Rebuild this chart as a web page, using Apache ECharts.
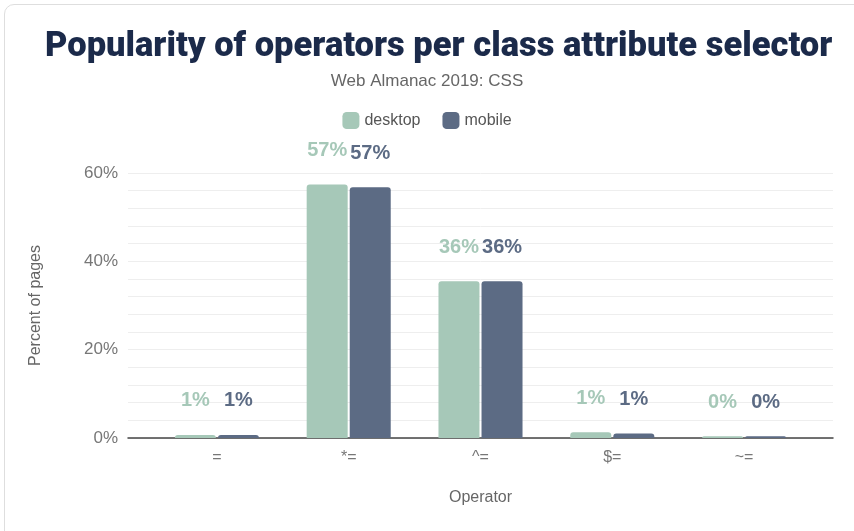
<!DOCTYPE html>
<html>
<head>
<meta charset="utf-8">
<script src="https://cdn.jsdelivr.net/npm/echarts@6/dist/echarts.min.js"></script>
<style>
  html, body { margin: 0; padding: 0; background: #fff; overflow: hidden; }
  #frame { position: absolute; left: 4px; top: 4px; width: 880px; height: 560px;
           border: 1px solid #dedede; border-radius: 10px; }
  #demo { position: absolute; left: 0; top: 0; width: 854px; height: 531px; }
</style>
</head>
<body>
<div id="frame"></div>
<div id="demo"></div>
<script>
var categories = ['=', '*=', '^=', '$=', '~='];
var desktop = [0.7, 57.4, 35.5, 1.3, 0.4];
var mobile = [0.7, 56.8, 35.5, 1.0, 0.4];
var desktopLabels = ['1%', '57%', '36%', '1%', '0%'];
var mobileLabels = ['1%', '57%', '36%', '1%', '0%'];
var yTicks = [0, 20, 40, 60];

var labelFont = { fontFamily: 'Liberation Sans', fontSize: 16, color: '#777' };

var mychar = echarts.init(document.getElementById('demo'));
mychar.setOption({
    title: [{
        text: 'Popularity of operators per class attribute selector',
        left: 40,
        top: 25,
        textStyle: { fontFamily: 'Roboto', fontWeight: 900, fontSize: 34.5, color: '#1b2a4a' }
    }, {
        text: 'Web Almanac 2019: CSS',
        left: 'center',
        top: 68,
        textStyle: { fontFamily: 'Liberation Sans', fontWeight: 'normal', fontSize: 17, color: '#666' }
    }],
    legend: {
        top: 107,
        left: 'center',
        itemWidth: 17,
        itemHeight: 17,
        itemGap: 22,
        icon: 'roundRect',
        textStyle: { fontFamily: 'Liberation Sans', fontSize: 16, color: '#555' },
        data: ['desktop', 'mobile']
    },
    // grid 0: frame with y axis, split lines and the axis line
    // grid 1: the narrower band where the categories sit
    grid: [
        { left: 128, right: 21, top: 173, bottom: 93 },
        { left: 151, right: 44, top: 173, bottom: 93 }
    ],
    xAxis: [{
        gridIndex: 0,
        type: 'category',
        data: [''],
        name: 'Operator',
        nameLocation: 'middle',
        nameGap: 52,
        nameTextStyle: { fontFamily: 'Liberation Sans', fontSize: 16, color: '#666' },
        axisTick: { show: false },
        axisLabel: { show: false },
        axisLine: { lineStyle: { color: '#444', width: 1.5 } }
    }, {
        gridIndex: 1,
        type: 'category',
        data: categories,
        axisTick: { show: false },
        axisLine: { show: false },
        axisLabel: Object.assign({ margin: 12 }, labelFont)
    }],
    yAxis: [{
        gridIndex: 0,
        type: 'value',
        min: 0,
        max: 60,
        interval: 4,
        name: 'Percent of pages',
        nameLocation: 'middle',
        nameGap: 84,
        nameTextStyle: { fontFamily: 'Liberation Sans', fontSize: 16, color: '#666' },
        axisLine: { show: false },
        axisTick: { show: false },
        splitLine: { lineStyle: { color: '#eeeeee', width: 1 } },
        axisLabel: Object.assign({
            margin: 10,
            formatter: function (v) { return yTicks.indexOf(v) >= 0 ? v + '%' : ''; }
        }, labelFont, { fontSize: 17 })
    }, {
        gridIndex: 1,
        type: 'value',
        min: 0,
        max: 60,
        show: false
    }],
    series: [{
        name: 'desktop',
        type: 'bar',
        xAxisIndex: 1,
        yAxisIndex: 1,
        data: desktop,
        barWidth: 41,
        barGap: '5%',
        itemStyle: { color: '#a6c8b8', borderRadius: [3, 3, 0, 0] },
        label: {
            show: true, position: 'top', distance: 24,
            fontFamily: 'Liberation Sans', fontWeight: 'bold', fontSize: 20, color: '#a6c8b8',
            formatter: function (p) { return desktopLabels[p.dataIndex]; }
        }
    }, {
        name: 'mobile',
        type: 'bar',
        xAxisIndex: 1,
        yAxisIndex: 1,
        data: mobile,
        barWidth: 41,
        itemStyle: { color: '#5c6b84', borderRadius: [3, 3, 0, 0] },
        label: {
            show: true, position: 'top', distance: 24,
            fontFamily: 'Liberation Sans', fontWeight: 'bold', fontSize: 20, color: '#5c6b84',
            formatter: function (p) { return mobileLabels[p.dataIndex]; }
        }
    }]
});
</script>
</body>
</html>
